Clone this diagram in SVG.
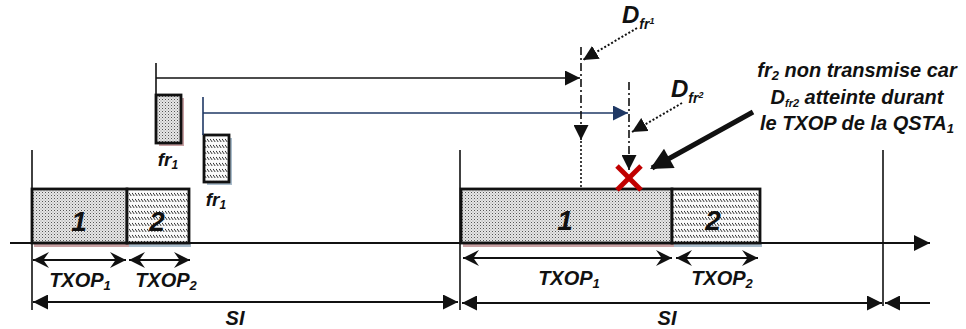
<svg xmlns="http://www.w3.org/2000/svg" width="966" height="329" viewBox="0 0 966 329">
<style>
.t{font-family:"Liberation Sans","DejaVu Sans",sans-serif;font-weight:bold;font-style:italic;fill:#111}
.ln{stroke:#111;stroke-width:2;fill:none}
.thin{stroke:#111;stroke-width:1.6;fill:none}
.dbl{stroke:#111;stroke-width:2;fill:none}
.box1{fill:url(#stip);stroke:#111;stroke-width:2.8}
.box2{fill:url(#hatch);stroke:#111;stroke-width:2.8}
.shp{fill:#c9a1a3}
.shb{fill:#a9bccb}
.x{stroke:#c00000;stroke-width:5}
</style>
<defs>
<pattern id="stip" width="3" height="3" patternUnits="userSpaceOnUse">
<rect width="3" height="3" fill="#e6e6e6"/>
<rect x="0" y="0" width="1" height="1" fill="#555"/>
<rect x="1.5" y="1.5" width="1" height="1" fill="#999"/>
</pattern>
<pattern id="hatch" width="3" height="6" patternUnits="userSpaceOnUse">
<rect width="3" height="6" fill="#fafafa"/>
<line x1="0" y1="0.8" x2="2.2" y2="4" stroke="#333" stroke-width="1"/>
</pattern>
<marker id="ah" viewBox="0 0 10 10" refX="10" refY="5" markerWidth="16" markerHeight="16" markerUnits="userSpaceOnUse" orient="auto-start-reverse">
<path d="M0,0 L10,5 L0,10 z" fill="#111"/>
</marker>
<marker id="ahs" viewBox="0 0 10 10" refX="10" refY="5" markerWidth="15" markerHeight="15" markerUnits="userSpaceOnUse" orient="auto-start-reverse">
<path d="M0,0 L10,5 L0,10 z" fill="#111"/>
</marker>
<marker id="st" viewBox="0 0 10 10" refX="10" refY="5" markerWidth="16" markerHeight="16" markerUnits="userSpaceOnUse" orient="auto-start-reverse">
<path d="M0,0 L10,5 L0,10 L3.5,5 z" fill="#111"/>
</marker>
<marker id="ahb" viewBox="0 0 10 10" refX="10" refY="5" markerWidth="15" markerHeight="15" markerUnits="userSpaceOnUse" orient="auto">
<path d="M0,0 L10,5 L0,10 z" fill="#1f3864"/>
</marker>
<marker id="big" viewBox="0 0 10 10" refX="9" refY="5" markerWidth="24" markerHeight="22" markerUnits="userSpaceOnUse" orient="auto">
<path d="M0,0 L10,5 L0,10 z" fill="#111"/>
</marker>
</defs>
<rect width="966" height="329" fill="#fff"/>

<g id="frame-left-1">
<rect class="shp" x="34" y="243" width="95" height="4"/>
<rect class="box1" x="32" y="189" width="95" height="54"/>
<text class="t" x="79" y="231" font-size="28" text-anchor="middle">1</text>
</g>
<g id="frame-left-2">
<rect class="shb" x="129" y="243" width="62" height="4"/>
<rect class="box2" x="127" y="189" width="62" height="54"/>
<text class="t" x="157" y="231" font-size="28" text-anchor="middle">2</text>
</g>
<g id="frame-right-1">
<rect class="shp" x="463" y="243" width="211" height="4"/>
<rect class="box1" x="461" y="189" width="211" height="54"/>
<text class="t" x="565" y="230" font-size="28" text-anchor="middle">1</text>
</g>
<g id="frame-right-2">
<rect class="shb" x="674" y="243" width="88" height="4"/>
<rect class="box2" x="672" y="189" width="88" height="54"/>
<text class="t" x="713" y="230" font-size="28" text-anchor="middle">2</text>
</g>
<g id="fr1-a">
<rect class="shp" x="159" y="98" width="25" height="48"/>
<rect class="box1" x="156" y="95" width="25" height="48"/>
<text class="t" x="168" y="166" font-size="19" text-anchor="middle">fr<tspan font-size="12" dy="3">1</tspan></text>
</g>
<g id="fr1-b">
<rect class="shb" x="207" y="138" width="25" height="47"/>
<rect class="box2" x="204" y="135" width="25" height="47"/>
<text class="t" x="216" y="206" font-size="19" text-anchor="middle">fr<tspan font-size="12" dy="3">1</tspan></text>
</g>

<g id="labels">
<text class="t" x="80" y="287" font-size="20" text-anchor="middle">TXOP<tspan font-size="13" dy="3">1</tspan></text>
<text class="t" x="166" y="287" font-size="20" text-anchor="middle">TXOP<tspan font-size="13" dy="3">2</tspan></text>
<text class="t" x="569" y="285" font-size="20" text-anchor="middle">TXOP<tspan font-size="13" dy="3">1</tspan></text>
<text class="t" x="722" y="285" font-size="20" text-anchor="middle">TXOP<tspan font-size="13" dy="3">2</tspan></text>
<text class="t" x="235" y="325" font-size="20" text-anchor="middle">SI</text>
<text class="t" x="667" y="325" font-size="20" text-anchor="middle">SI</text>
<text class="t" x="622" y="23" font-size="24">D<tspan font-size="14" dy="6">fr</tspan><tspan font-size="9" dy="-5">1</tspan></text>
<text class="t" x="671" y="97" font-size="24">D<tspan font-size="14" dy="6">fr</tspan><tspan font-size="9" dy="-5">2</tspan></text>
</g>
<g id="note">
<text class="t" x="857" y="77" font-size="20" text-anchor="middle">fr<tspan font-size="13" dy="3">2</tspan><tspan dy="-3"> non transmise car</tspan></text>
<text class="t" x="857" y="104" font-size="20" text-anchor="middle">D<tspan font-size="11" dy="3">fr2</tspan><tspan dy="-3">  atteinte durant</tspan></text>
<text class="t" x="857" y="130" font-size="20" text-anchor="middle">le TXOP de la QSTA<tspan font-size="13" dy="3">1</tspan></text>
</g>

<g id="connectors">
<line class="ln" x1="10" y1="243" x2="930" y2="243" marker-end="url(#ah)"/>
<line class="thin" x1="32" y1="150" x2="32" y2="310"/>
<line class="thin" x1="460" y1="150" x2="460" y2="310"/>
<line class="thin" x1="883" y1="150" x2="883" y2="306"/>
<line class="dbl" x1="33" y1="260" x2="126" y2="260" marker-start="url(#st)" marker-end="url(#st)"/>
<line class="dbl" x1="129" y1="260" x2="190" y2="260" marker-start="url(#st)" marker-end="url(#st)"/>
<line class="dbl" x1="463" y1="258" x2="672" y2="258" marker-start="url(#st)" marker-end="url(#st)"/>
<line class="dbl" x1="676" y1="258" x2="758" y2="258" marker-start="url(#st)" marker-end="url(#st)"/>
<line class="ln" x1="33" y1="302" x2="458" y2="302" marker-start="url(#ahs)" marker-end="url(#ahs)"/>
<line class="ln" x1="462" y1="303" x2="882" y2="303" marker-start="url(#ahs)" marker-end="url(#ahs)"/>
<line class="ln" x1="930" y1="303" x2="885" y2="303" marker-end="url(#ahs)"/>
<line class="thin" x1="156" y1="63" x2="156" y2="95"/>
<line class="thin" x1="156" y1="78" x2="580" y2="78" marker-end="url(#ahs)"/>
<line stroke="#1f3864" stroke-width="1.6" x1="203" y1="97" x2="203" y2="135"/>
<line stroke="#1f3864" stroke-width="1.6" x1="203" y1="113" x2="628" y2="113" marker-end="url(#ahb)"/>
<line stroke="#111" stroke-width="1.6" stroke-dasharray="8,3,2,3" x1="581" y1="47" x2="581" y2="140" marker-end="url(#ahs)"/>
<line stroke="#111" stroke-width="1.6" stroke-dasharray="2,2" x1="581" y1="141" x2="581" y2="187"/>
<line stroke="#111" stroke-width="1.6" stroke-dasharray="8,3,2,3" x1="629" y1="82" x2="629" y2="170" marker-end="url(#ahs)"/>
<line stroke="#111" stroke-width="2" stroke-dasharray="2,2" x1="637" y1="28" x2="583" y2="60" marker-end="url(#ahs)"/>
<line stroke="#111" stroke-width="2" stroke-dasharray="2,2" x1="682" y1="103" x2="632" y2="132" marker-end="url(#ahs)"/>
<line stroke="#111" stroke-width="5" x1="753" y1="112" x2="652" y2="168" marker-end="url(#big)"/>
</g>
<g id="drop-mark">
<line class="x" x1="617" y1="166" x2="641" y2="190"/>
<line class="x" x1="641" y1="166" x2="617" y2="190"/>
</g>
</svg>
